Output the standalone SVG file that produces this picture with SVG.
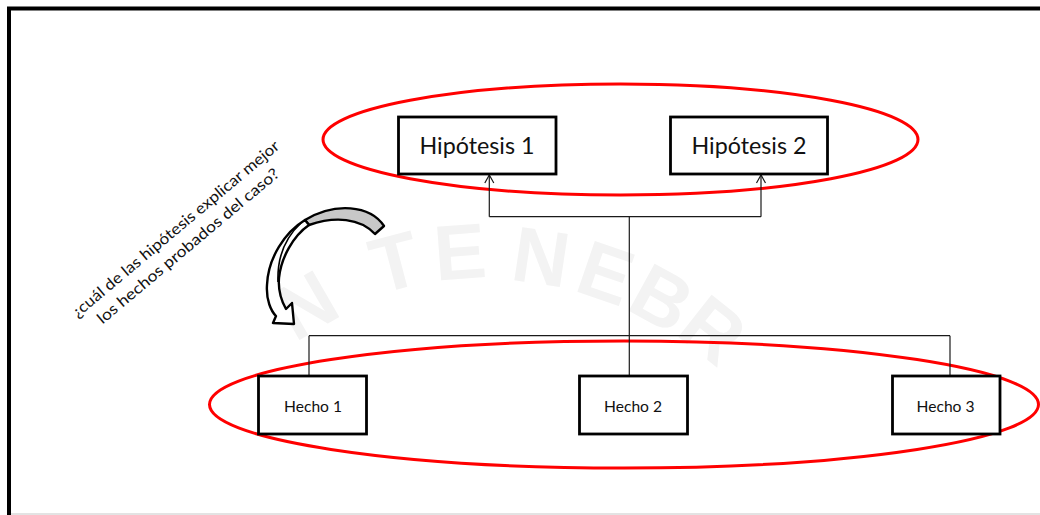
<svg xmlns="http://www.w3.org/2000/svg" width="1040" height="515" viewBox="0 0 1040 515">
  <style>
    .frame { fill: none; stroke: #000; stroke-width: 4; }
    .ring { fill: none; stroke: #ff0000; stroke-width: 3; }
    .box { fill: #fff; stroke: #000; stroke-width: 2.8; }
    .wire { fill: none; stroke: #1a1a1a; stroke-width: 1.2; }
    .big { font-family: Lato, "Open Sans", "Liberation Sans", sans-serif; font-size: 23px; fill: #111; }
    .small { font-family: Lato, "Open Sans", "Liberation Sans", sans-serif; font-size: 16px; fill: #111; }
    .note { font-family: Lato, "Open Sans", "Liberation Sans", sans-serif; font-size: 15.5px; fill: #111; }
    .mark { font-family: "Liberation Sans", sans-serif; font-weight: bold; font-size: 78px; fill: #f3f3f3; }
    .turn { stroke: #000; stroke-width: 2.4; stroke-linejoin: round; }
  </style>
  <defs>
    <marker id="open" markerUnits="userSpaceOnUse" markerWidth="12" markerHeight="12" refX="0" refY="0" viewBox="-10 -6 12 12" orient="auto">
      <path d="M-8,-4.5 L0,0 L-8,4.5" fill="none" stroke="#1a1a1a" stroke-width="1.2"/>
    </marker>
    <clipPath id="sheet"><rect x="0" y="0" width="1040" height="497"/></clipPath>
  </defs>

  <rect width="1040" height="515" fill="#fff"/>

  <!-- faint seal lettering in the background -->
  <g id="seal" clip-path="url(#sheet)">
    <text class="mark" text-anchor="middle" transform="translate(306,305) rotate(-30)" dy="27">N</text>
    <text class="mark" text-anchor="middle" transform="translate(395,262) rotate(-14.7)" dy="27">T</text>
    <text class="mark" text-anchor="middle" transform="translate(460,252) rotate(-4.3)" dy="27">E</text>
    <text class="mark" text-anchor="middle" transform="translate(541,257) rotate(8.5)" dy="27">N</text>
    <text class="mark" text-anchor="middle" transform="translate(606,273) rotate(19)" dy="27">E</text>
    <text class="mark" text-anchor="middle" transform="translate(662,298) rotate(28.7)" dy="27">B</text>
    <text class="mark" text-anchor="middle" transform="translate(713,330) rotate(38.3)" dy="27">R</text>
  </g>

  <!-- page border -->
  <path class="frame" d="M9,515 V8.5 H1040"/>
  <line x1="11" y1="514" x2="1040" y2="514" stroke="#c8c8c8" stroke-width="1.2"/>

  <!-- grouping rings -->
  <g id="rings">
    <ellipse class="ring" cx="620.5" cy="139.5" rx="297.5" ry="55.5"/>
    <ellipse class="ring" cx="624" cy="404.5" rx="414.5" ry="63.5"/>
  </g>

  <!-- connectors -->
  <g id="connectors">
    <path class="wire" d="M489.3,216.7 H761"/>
    <path class="wire" d="M489.3,216.7 V175" marker-end="url(#open)"/>
    <path class="wire" d="M761,216.7 V175" marker-end="url(#open)"/>
    <path class="wire" d="M629.3,216.7 V376"/>
    <path class="wire" d="M309,335.7 H950"/>
    <path class="wire" d="M309,335.7 V376"/>
    <path class="wire" d="M950,335.7 V376"/>
  </g>

  <!-- hypotheses -->
  <g id="hipotesis-1">
    <rect class="box" x="398.5" y="117" width="157.5" height="57"/>
    <text class="big" x="477" y="154" text-anchor="middle" textLength="115" lengthAdjust="spacingAndGlyphs">Hipótesis 1</text>
  </g>
  <g id="hipotesis-2">
    <rect class="box" x="670.5" y="117" width="157" height="57"/>
    <text class="big" x="749" y="154" text-anchor="middle" textLength="115" lengthAdjust="spacingAndGlyphs">Hipótesis 2</text>
  </g>

  <!-- facts -->
  <g id="hecho-1">
    <rect class="box" x="258.5" y="376" width="108" height="58"/>
    <text class="small" x="313" y="411.5" text-anchor="middle" textLength="58" lengthAdjust="spacingAndGlyphs">Hecho 1</text>
  </g>
  <g id="hecho-2">
    <rect class="box" x="579.5" y="376" width="108" height="58"/>
    <text class="small" x="633" y="411.5" text-anchor="middle" textLength="58" lengthAdjust="spacingAndGlyphs">Hecho 2</text>
  </g>
  <g id="hecho-3">
    <rect class="box" x="892.5" y="376" width="107.5" height="58"/>
    <text class="small" x="945.5" y="411.5" text-anchor="middle" textLength="58" lengthAdjust="spacingAndGlyphs">Hecho 3</text>
  </g>

  <!-- curved block arrow -->
  <g id="curved-arrow">
    <path class="turn" fill="#c8c8c8" d="M384,226 C370,205 335,202 305,220 L309,225 C335,216 360,218 375,234 Z"/>
    <path class="turn" fill="#fff" d="M305,220 C285,232 268,258 267,285 C266,300 271,311 276,316 L273,323 L294,324 L292,303 L286,309 C281,300 278,290 279,278 C281,258 293,236 309,225 Z"/>
    <path d="M301,223 C287,236 277,256 278,282" fill="none" stroke="#000" stroke-width="1.6"/>
  </g>

  <!-- question -->
  <g id="question" transform="translate(179,233) rotate(-40)">
    <text class="note" x="0" y="0" text-anchor="middle" textLength="265" lengthAdjust="spacingAndGlyphs">¿cuál de las hipótesis explicar mejor</text>
    <text class="note" x="-1.5" y="21" text-anchor="middle" textLength="232" lengthAdjust="spacingAndGlyphs">los hechos probados del caso?</text>
  </g>
</svg>
